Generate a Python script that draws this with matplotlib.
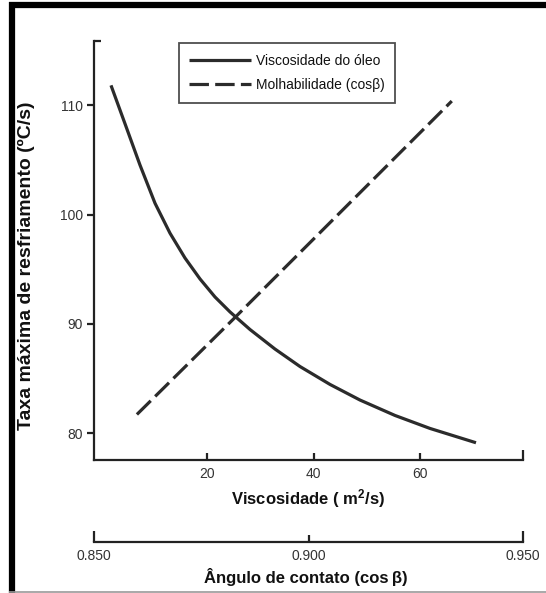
import matplotlib
matplotlib.use("Agg")
import matplotlib.pyplot as plt
from matplotlib.lines import Line2D
from matplotlib.ticker import FixedLocator, FixedFormatter

# ---- data ----
visc_x = [1.97, 4.60, 7.41, 10.23, 13.04, 15.85, 18.67, 21.48, 24.30, 28.05,
          32.74, 37.43, 43.06, 48.69, 55.25, 61.82, 70.45]
visc_y = [111.84, 108.32, 104.54, 101.04, 98.30, 96.03, 94.11, 92.46, 91.09, 89.48,
          87.69, 86.09, 84.45, 83.02, 81.61, 80.42, 79.11]

cos_x = [0.8600, 0.8824, 0.9334]
cos_y = [81.7, 90.4, 110.4]

visc_ticks = [20, 40, 60]
y_ticks = [80, 90, 100, 110]
cos_ticks_major = [0.850, 0.950]
cos_ticks_minor = [0.900]
cos_labels_major = ["0.850", "0.950"]
cos_labels_minor = ["0.900"]

label_solid = "Viscosidade do óleo"
label_dash = "Molhabilidade (cos\u03b2)"
xlabel = "Viscosidade ( m$^2$/s)"
xlabel2 = "Ângulo de contato (cos\u2009\u03b2)"
ylabel = "Taxa máxima de resfriamento (ºC/s)"

plt.rcParams['font.family'] = ['Liberation Sans', 'DejaVu Sans']
plt.rcParams['mathtext.fontset'] = 'custom'
plt.rcParams['mathtext.rm'] = 'Liberation Sans:bold'
plt.rcParams['mathtext.default'] = 'rm'
plt.rcParams['lines.scale_dashes'] = False

W, H = 546, 593
fig = plt.figure(figsize=(W / 100, H / 100), dpi=100)

axc = '#222222'
txtc = '#333333'
linec = '#2b2b2b'

# main axes: pixels x 94..523, y 41..460
ax = fig.add_axes([94 / W, 1 - 460 / H, (523 - 94) / W, (460 - 41) / H])
ax.set_xlim(-1.22, 79.27)
ax.set_ylim(77.53, 115.9)
for s in ['top', 'right']:
    ax.spines[s].set_visible(False)
for s in ['left', 'bottom']:
    ax.spines[s].set_color(axc)
    ax.spines[s].set_linewidth(1.6)

ax.plot(visc_x, visc_y, color=linec, lw=2.3, solid_capstyle='butt',
        solid_joinstyle='round', label=label_solid)

ax.xaxis.set_major_locator(FixedLocator(visc_ticks))
ax.xaxis.set_minor_locator(FixedLocator([79.27]))
ax.yaxis.set_major_locator(FixedLocator(y_ticks))
ax.yaxis.set_minor_locator(FixedLocator([115.9]))
ax.tick_params(axis='x', which='major', direction='in', length=5, width=1.6, color=axc,
               labelsize=10, labelcolor=txtc, pad=5)
ax.tick_params(axis='x', which='minor', direction='in', length=7, width=1.6, color=axc)
ax.tick_params(axis='y', which='major', direction='out', length=5, width=1.6, color=axc,
               labelsize=10, labelcolor=txtc, pad=3)
ax.tick_params(axis='y', which='minor', direction='in', length=5, width=1.6, color=axc)

ax.set_xlabel(xlabel, fontsize=12, fontweight='bold', color='#111111')
ax.xaxis.set_label_coords(308 / W, 1 - 499 / H, transform=fig.transFigure)
ax.xaxis.label.set_va('center')
ax.set_ylabel(ylabel, fontsize=14, fontweight='bold', color='#111111')
ax.yaxis.set_label_coords(26 / W, 1 - 266 / H, transform=fig.transFigure)
ax.yaxis.label.set_va('center')

# twin axes for the contact-angle scale (same pixel span)
axt = ax.twiny()
axt.set_xlim(0.85, 0.95)
axt.axis('off')
axt.plot(cos_x, cos_y, color=linec, lw=2.3, dashes=(14, 4.5), dash_capstyle='butt',
         label=label_dash)

# separate bottom axis for the contact angle
ab = fig.add_axes([94 / W, 1 - 541.7 / H, (523 - 94) / W, 0.0001])
ab.set_xlim(0.85, 0.95)
ab.set_yticks([])
for s in ['top', 'right', 'left']:
    ab.spines[s].set_visible(False)
ab.spines['bottom'].set_color(axc)
ab.spines['bottom'].set_linewidth(1.6)
ab.patch.set_visible(False)
ab.xaxis.set_major_locator(FixedLocator(cos_ticks_major))
ab.xaxis.set_major_formatter(FixedFormatter(cos_labels_major))
ab.xaxis.set_minor_locator(FixedLocator(cos_ticks_minor))
ab.xaxis.set_minor_formatter(FixedFormatter(cos_labels_minor))
ab.tick_params(axis='x', which='major', direction='in', length=8, width=1.6, color=axc,
               labelsize=10, labelcolor=txtc, pad=5)
ab.tick_params(axis='x', which='minor', direction='in', length=5, width=1.6, color=axc,
               labelsize=10, labelcolor=txtc, pad=5)
ab.set_xlabel(xlabel2, fontsize=12, fontweight='bold', color='#111111')
ab.xaxis.set_label_coords(306 / W, 1 - 577 / H, transform=fig.transFigure)
ab.xaxis.label.set_va('center')

# legend
h1, l1 = ax.get_legend_handles_labels()
h2, l2 = axt.get_legend_handles_labels()
leg = fig.legend(h1 + h2, l1 + l2, loc='upper left',
                 bbox_to_anchor=(179 / W, 1 - 43.3 / H), bbox_transform=fig.transFigure,
                 fontsize=10, frameon=True, fancybox=False, handlelength=4.45,
                 handletextpad=0.36, borderpad=0.75, labelspacing=0.75, borderaxespad=0)
leg.get_frame().set_edgecolor('#222222')
leg.get_frame().set_linewidth(1.3)
for t in leg.get_texts():
    t.set_color('#111111')

# outer frame of the scanned figure
fig.add_artist(Line2D([12 / W, 12 / W], [0, 1 - 2 / H], transform=fig.transFigure,
                      color='black', lw=4.5, solid_capstyle='butt'))
fig.add_artist(Line2D([9 / W, 1], [1 - 5 / H, 1 - 5 / H], transform=fig.transFigure,
                      color='black', lw=4.5, solid_capstyle='butt'))
fig.add_artist(Line2D([9 / W, 1], [1.5 / H, 1.5 / H], transform=fig.transFigure,
                      color='#9a9a9a', lw=1.2, solid_capstyle='butt'))

fig.savefig("out.png", dpi=100, facecolor='white')
